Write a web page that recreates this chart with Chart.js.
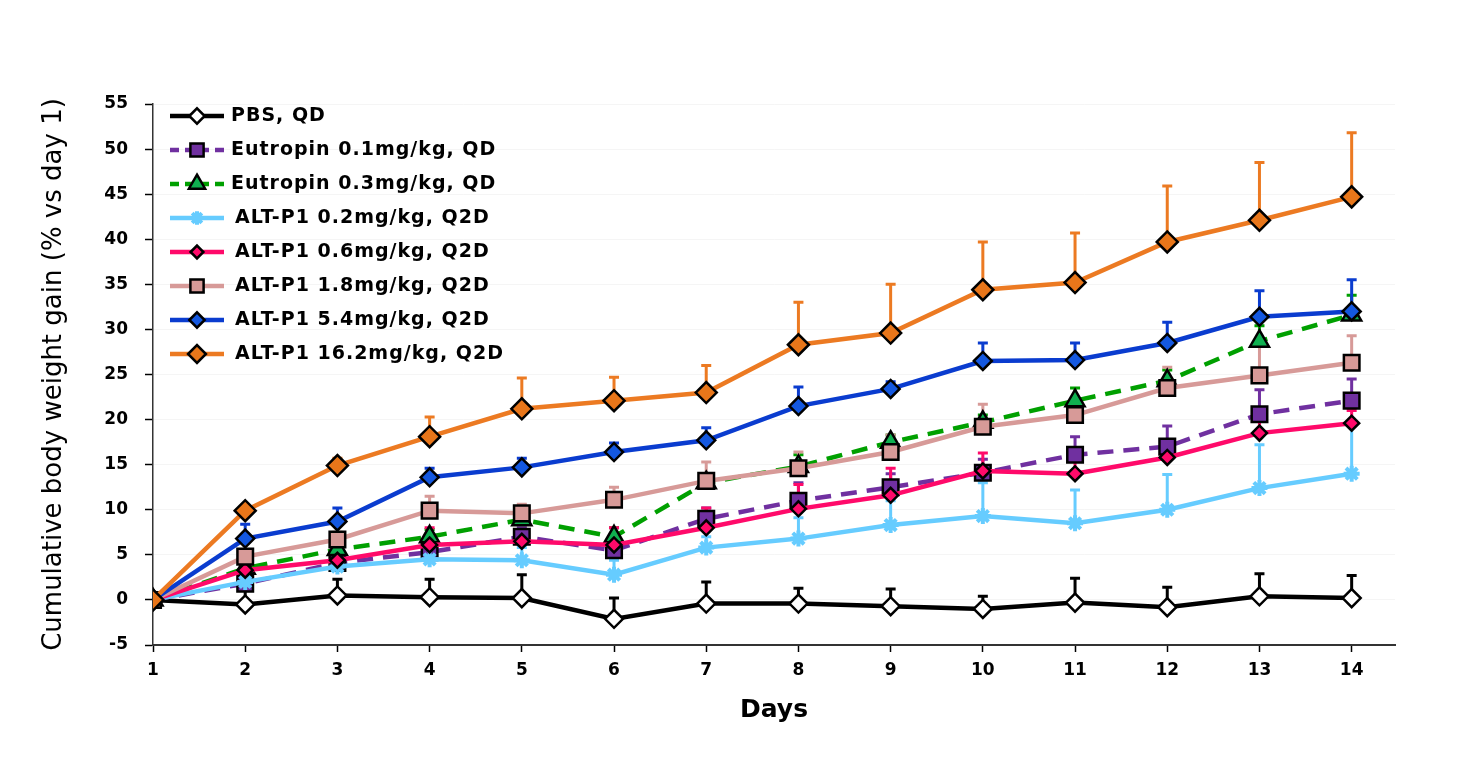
<!DOCTYPE html>
<html>
<head>
<meta charset="utf-8">
<script src="https://cdn.jsdelivr.net/npm/chart.js@4.4.1/dist/chart.umd.min.js"></script>
<style>
  html, body { margin: 0; padding: 0; background: #fff; }
  #wrap { width: 1466px; height: 757px; position: relative; }
</style>
</head>
<body>
<div id="wrap"><canvas id="weightChart"></canvas></div>
<script>
// Cumulative body weight gain per group
const days = [1, 2, 3, 4, 5, 6, 7, 8, 9, 10, 11, 12, 13, 14];

const seriesNames = [
  "PBS, QD",
  "Eutropin 0.1mg/kg, QD",
  "Eutropin 0.3mg/kg, QD",
  "ALT-P1 0.2mg/kg, Q2D",
  "ALT-P1 0.6mg/kg, Q2D",
  "ALT-P1 1.8mg/kg, Q2D",
  "ALT-P1 5.4mg/kg, Q2D",
  "ALT-P1 16.2mg/kg, Q2D",
];

const pbs = [0, -0.5, 0.5, 0.3, 0.2, -2.1, -0.4, -0.4, -0.7, -1.0, -0.3, -0.8, 0.4, 0.2];
const pbsErr = [0, 3.0, 1.8, 2.0, 2.6, 2.3, 2.4, 1.7, 1.9, 1.4, 2.7, 2.2, 2.5, 2.5];

const eut01 = [0, 1.8, 4.1, 5.3, 7.0, 5.5, 9.0, 11.0, 12.5, 14.1, 16.1, 17.0, 20.6, 22.1];
const eut01Err = [0, 0.5, 0.5, 1.0, 1.0, 1.0, 1.2, 2.0, 1.5, 1.5, 2.0, 2.3, 2.7, 2.4];

const eut03 = [0, 3.5, 5.6, 7.0, 8.9, 7.0, 13.0, 14.8, 17.5, 19.7, 22.1, 24.3, 28.7, 31.6];
const eut03Err = [0, 0.5, 0.8, 0.8, 0.8, 1.0, 1.0, 1.3, 0.8, 0.8, 1.4, 1.2, 1.7, 2.2];

const alt02 = [0, 2.0, 3.7, 4.5, 4.4, 2.8, 5.8, 6.8, 8.3, 9.3, 8.5, 10.0, 12.4, 14.0];
const alt02Err = [0, 0.8, 0.8, 1.0, 1.4, 1.6, 1.2, 2.3, 2.7, 3.7, 3.7, 3.9, 4.8, 5.5];

const alt06 = [0, 3.3, 4.4, 6.1, 6.5, 6.1, 8.0, 10.1, 11.6, 14.3, 14.0, 15.8, 18.5, 19.6];
const alt06Err = [0, 0.5, 0.5, 1.9, 1.0, 1.9, 2.2, 2.7, 3.0, 2.0, 1.5, 1.5, 1.5, 1.4];

const alt18 = [0, 4.8, 6.7, 9.9, 9.6, 11.1, 13.2, 14.6, 16.4, 19.2, 20.5, 23.5, 24.9, 26.3];
const alt18Err = [0, 0.6, 0.8, 1.6, 1.0, 1.4, 2.1, 1.8, 1.9, 2.5, 1.5, 2.3, 3.2, 3.0];

const alt54 = [0, 6.8, 8.7, 13.6, 14.7, 16.4, 17.7, 21.5, 23.4, 26.5, 26.6, 28.5, 31.4, 32.0];
const alt54Err = [0, 1.6, 1.5, 1.0, 1.0, 1.0, 1.4, 2.1, 0.8, 2.0, 1.9, 2.3, 2.9, 3.5];

const alt162 = [0, 9.9, 14.9, 18.1, 21.2, 22.1, 23.0, 28.3, 29.6, 34.4, 35.2, 39.7, 42.1, 44.7];
const alt162Err = [0, 0.5, 0.8, 2.2, 3.4, 2.6, 3.0, 4.7, 5.4, 5.3, 5.5, 6.2, 6.4, 7.1];

const yTicks = { min: -5, max: 55, step: 5 };

function toPoints(values) {
  return values.map((v, i) => ({ x: days[i], y: v }));
}

function makeSeries(idx, values, errors, style) {
  return {
    label: seriesNames[idx],
    data: toPoints(values),
    errors: errors,
    borderColor: style.line,
    backgroundColor: style.fill,
    borderWidth: style.width || 4.5,
    borderDash: style.dash || [],
    pointStyle: style.point,
    pointRadius: style.radius,
    pointHoverRadius: style.radius,
    pointBackgroundColor: style.fill,
    pointBorderColor: style.pointBorder || "#000",
    pointBorderWidth: style.pointBorderWidth || 2.5,
    tension: 0,
    fill: false,
    order: 7 - idx,
  };
}

const datasets = [
  makeSeries(0, pbs, pbsErr, { line: "#000000", fill: "#ffffff", point: "rectRot", radius: 9 }),
  makeSeries(1, eut01, eut01Err, { line: "#7030a0", fill: "#7030a0", point: "rect", radius: 11, dash: [16, 10] }),
  makeSeries(2, eut03, eut03Err, { line: "#00a000", fill: "#10b050", point: "triangle", radius: 11, dash: [16, 10] }),
  makeSeries(3, alt02, alt02Err, { line: "#66ccff", fill: "#66ccff", point: "star", radius: 8, pointBorder: "#66ccff", pointBorderWidth: 4 }),
  makeSeries(4, alt06, alt06Err, { line: "#ff0a6a", fill: "#ff0a6a", point: "rectRot", radius: 7.5 }),
  makeSeries(5, alt18, alt18Err, { line: "#d79a98", fill: "#d79a98", point: "rect", radius: 11 }),
  makeSeries(6, alt54, alt54Err, { line: "#0a3ccf", fill: "#1458e0", point: "rectRot", radius: 9 }),
  makeSeries(7, alt162, alt162Err, { line: "#ec7a22", fill: "#e8761a", point: "rectRot", radius: 10.5 }),
];

// up-only error bars with caps, drawn under the lines
const errorBars = {
  id: "errorBars",
  beforeDatasetsDraw(chart) {
    const ctx = chart.ctx;
    const xs = chart.scales.x;
    const ys = chart.scales.y;
    ctx.save();
    for (let i = 0; i < chart.data.datasets.length; i++) {
      const ds = chart.data.datasets[i];
      ctx.strokeStyle = ds.borderColor;
      ctx.lineWidth = 3;
      ctx.setLineDash([]);
      ds.data.forEach((p, j) => {
        const e = ds.errors[j];
        if (!e) return;
        const px = xs.getPixelForValue(p.x);
        const y0 = ys.getPixelForValue(p.y);
        const y1 = ys.getPixelForValue(p.y + e);
        ctx.beginPath();
        ctx.moveTo(px, y0);
        ctx.lineTo(px, y1);
        ctx.moveTo(px - 5, y1);
        ctx.lineTo(px + 5, y1);
        ctx.stroke();
      });
    }
    ctx.restore();
  },
};

// legend in the upper left: line sample, marker, label
const seriesKey = {
  id: "seriesKey",
  afterDraw(chart) {
    const ctx = chart.ctx;
    ctx.save();
    chart.data.datasets.forEach((ds, i) => {
      const yc = 116 + i * 34.0;
      ctx.strokeStyle = ds.borderColor;
      ctx.lineWidth = ds.borderWidth;
      ctx.setLineDash(ds.borderDash.length ? [9, 6] : []);
      ctx.beginPath();
      ctx.moveTo(170, yc);
      ctx.lineTo(224, yc);
      ctx.stroke();
      ctx.setLineDash([]);
      ctx.fillStyle = ds.pointBackgroundColor;
      ctx.strokeStyle = ds.pointBorderColor;
      ctx.lineWidth = ds.pointBorderWidth;
      Chart.helpers.drawPoint(ctx, {
        pointStyle: ds.pointStyle,
        rotation: 0,
        radius: ds.pointRadius * 0.85,
        borderWidth: ds.pointBorderWidth,
      }, 197, yc);
      ctx.fillStyle = "#000";
      ctx.font = "bold 19px 'DejaVu Sans'";
      ctx.letterSpacing = "1px";
      ctx.textBaseline = "middle";
      ctx.textAlign = "left";
      ctx.fillText(ds.label, i < 3 ? 231 : 235, yc);
      ctx.letterSpacing = "0px";
    });
    ctx.restore();
  },
};

const weightCtx = document.getElementById("weightChart");

new Chart(weightCtx, {
  type: "line",

  data: {
    datasets: datasets,
  },

  options: {
    responsive: true,
    maintainAspectRatio: false,
    animation: false,
    events: [],

    layout: {
      padding: { left: 35, right: 71, top: 104, bottom: 28 },
    },

    plugins: {
      legend: { display: false },
      tooltip: { enabled: false },
    },

    scales: {
      x: {
        type: "linear",
        min: 1,
        max: 14.47,
        afterFit: (scale) => {
          scale.height = 84;
        },
        ticks: {
          stepSize: 1,
          includeBounds: false,
          autoSkip: false,
          maxRotation: 0,
          padding: 8,
          color: "#000",
          font: { family: "'DejaVu Sans'", size: 17, weight: "bold" },
          callback: (v) => (Number.isInteger(v) ? v : ""),
        },
        grid: {
          drawOnChartArea: false,
          drawTicks: true,
          tickLength: 7,
          tickColor: "#000",
          tickWidth: 1.5,
        },
        border: { color: "#333", width: 2 },
        title: {
          display: true,
          text: "Days",
          color: "#000",
          font: { family: "'DejaVu Sans'", size: 25, weight: "bold" },
        },
      },

      y: {
        min: yTicks.min,
        max: yTicks.max,
        afterFit: (scale) => {
          scale.width = 118;
        },
        ticks: {
          stepSize: yTicks.step,
          padding: 17,
          color: "#000",
          font: { family: "'DejaVu Sans'", size: 17, weight: "bold" },
        },
        grid: {
          color: "rgba(0,0,0,0.04)",
          drawTicks: true,
          tickLength: 8,
          tickColor: "#000",
          tickWidth: 1.5,
        },
        border: { color: "#333", width: 1.5 },
        title: {
          display: true,
          text: "Cumulative body weight gain (% vs day 1)",
          color: "#000",
          font: { family: "'DejaVu Sans'", size: 26 },
        },
      },
    },
  },

  plugins: [errorBars, seriesKey],
});
</script>
</body>
</html>
